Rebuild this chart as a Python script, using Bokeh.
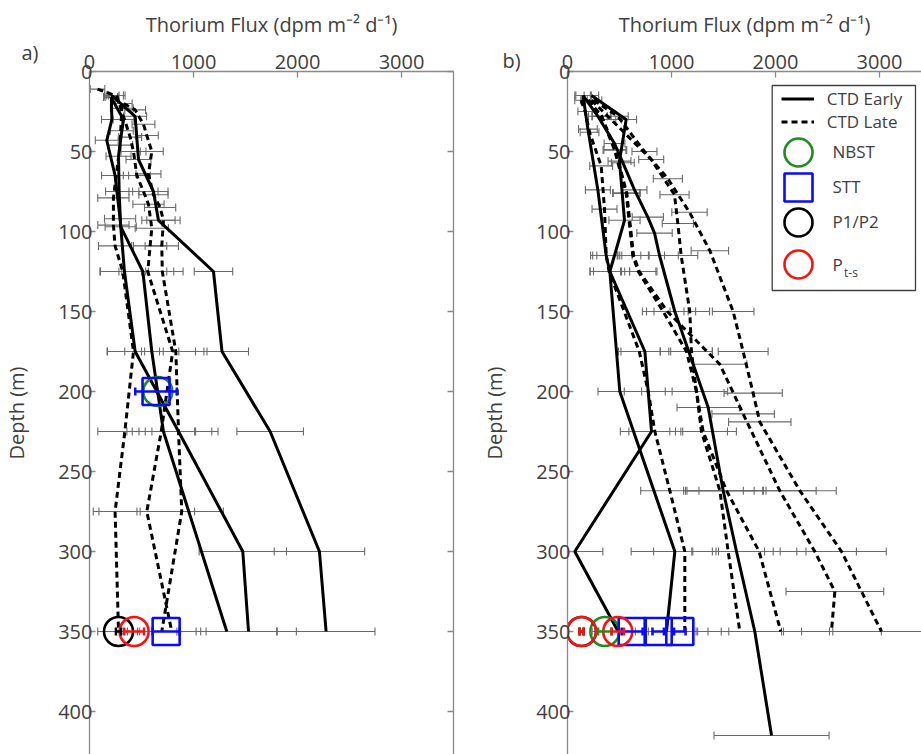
from bokeh.plotting import figure
from bokeh.models import (Range1d, LinearAxis, FixedTicker, Whisker, TeeHead, ColumnDataSource,
                          Legend, LegendItem, Label, BoxAnnotation)
from bokeh.layouts import row
from bokeh.embed import file_html
from bokeh.resources import INLINE

# ---------------- data ----------------
X_TICKS = [0, 1000, 2000, 3000]
Y_TICKS = [0, 50, 100, 150, 200, 250, 300, 350, 400]
X_LABEL = "Thorium Flux (dpm m\u207b\u00b2 d\u207b\u00b9)"
Y_LABEL = "Depth (m)"
PANEL_LABELS = ["a)", "b)"]

# Panel a) CTD Early (solid)
A_E1_DEPTH = [15, 28, 55, 75, 93, 125, 175, 225, 300, 350]
A_E1_FLUX = [214, 439, 471, 615, 663, 1192, 1274, 1737, 2211, 2275]
A_E1_ERR = [70, 110, 120, 140, 160, 185, 255, 320, 435, 470]

A_E2_DEPTH = [16, 30, 37, 53, 75, 97, 125, 175, 225, 350]
A_E2_FLUX = [205, 327, 311, 279, 285, 300, 513, 599, 711, 1320]
A_E2_ERR = [70, 100, 110, 120, 130, 150, 230, 260, 300, 480]

A_E3_DEPTH = [16, 30, 43, 65, 92, 125, 175, 225, 300, 350]
A_E3_FLUX = [210, 215, 166, 246, 294, 336, 439, 856, 1474, 1529]
A_E3_ERR = [60, 100, 110, 130, 150, 230, 270, 380, 420, 460]

# Panel a) CTD Late (dashed)
A_L1_DEPTH = [11, 15, 23, 46, 79, 96, 109, 125, 175, 225, 275, 350]
A_L1_FLUX = [77, 246, 311, 294, 230, 230, 246, 320, 423, 340, 246, 279]
A_L1_ERR = [70, 80, 110, 120, 150, 150, 160, 220, 250, 260, 210, 200]

A_L2_DEPTH = [15, 41, 50, 65, 75, 83, 98, 109, 125, 175, 225, 275, 350]
A_L2_FLUX = [262, 391, 423, 455, 519, 567, 599, 583, 560, 800, 690, 551, 791]
A_L2_ERR = [80, 110, 120, 130, 140, 150, 160, 160, 250, 300, 330, 460, 330]

A_L3_DEPTH = [20, 24, 33, 40, 50, 64, 77, 85, 93, 109, 125, 175, 225, 275, 350]
A_L3_FLUX = [330, 439, 519, 551, 599, 567, 615, 679, 711, 695, 700, 830, 856, 887, 695]
A_L3_ERR = [80, 100, 110, 110, 110, 120, 140, 150, 160, 160, 200, 300, 320, 400, 330]

# Panel a) traps
A_NBST_DEPTH = [200]
A_NBST_FLUX = [657]
A_STT_DEPTH = [200, 350]
A_STT_FLUX = [640, 737]
A_STT_ERR = [200, 130]
A_P12_DEPTH = [350]
A_P12_FLUX = [279]
A_P12_ERR = [25]
A_PTS_DEPTH = [350]
A_PTS_FLUX = [429]
A_PTS_ERR = [95]

# Panel b) CTD Early (solid)
B_E1_DEPTH = [15, 28, 45, 57, 74, 91, 101, 115, 150, 210, 262, 300, 350, 415]
B_E1_FLUX = [150, 292, 452, 532, 644, 772, 837, 885, 1032, 1353, 1497, 1625, 1801, 1962]
B_E1_ERR = [80, 90, 100, 110, 120, 150, 170, 180, 200, 300, 380, 420, 450, 553]

B_E2_DEPTH = [15, 30, 56, 93, 115, 125, 200, 300, 350]
B_E2_FLUX = [230, 564, 500, 548, 452, 407, 503, 1032, 952]
B_E2_ERR = [70, 100, 110, 150, 170, 190, 210, 420, 300]

B_E3_DEPTH = [15, 36, 74, 115, 125, 175, 225, 300, 350]
B_E3_FLUX = [150, 196, 292, 372, 407, 744, 808, 70, 487]
B_E3_ERR = [70, 90, 120, 150, 190, 230, 300, 270, 250]

# Panel b) CTD Late (dashed)
B_L1_DEPTH = [18, 25, 38, 59, 86, 115, 125, 175, 200, 225, 262, 300, 350]
B_L1_FLUX = [130, 170, 212, 324, 356, 372, 400, 690, 776, 840, 984, 1128, 1128]
B_L1_ERR = [60, 70, 90, 110, 120, 130, 150, 200, 230, 250, 280, 300, 350]

B_L2_DEPTH = [18, 28, 49, 76, 115, 125, 150, 175, 200, 225, 262, 300, 350]
B_L2_FLUX = [200, 324, 452, 564, 628, 680, 920, 1144, 1240, 1304, 1529, 1843, 2051]
B_L2_ERR = [70, 90, 110, 130, 150, 170, 200, 250, 300, 320, 380, 450, 500]

B_L3_DEPTH = [18, 30, 55, 77, 95, 115, 150, 175, 225, 262, 300, 350]
B_L3_FLUX = [230, 420, 805, 1029, 1061, 1093, 1176, 1192, 1288, 1465, 1545, 1657]
B_L3_ERR = [70, 100, 120, 140, 150, 160, 190, 200, 250, 330, 350, 420]

B_L4_DEPTH = [18, 28, 49, 76, 115, 125, 150, 183, 214, 262, 300, 325, 350]
B_L4_FLUX = [200, 330, 460, 570, 635, 690, 960, 1465, 1689, 2041, 2378, 2571, 2538]
B_L4_ERR = [70, 90, 110, 130, 150, 170, 200, 260, 300, 350, 400, 470, 480]

B_L5_DEPTH = [18, 28, 50, 67, 88, 112, 150, 175, 201, 219, 262, 300, 350]
B_L5_FLUX = [250, 484, 740, 965, 1173, 1369, 1593, 1689, 1785, 1849, 2234, 2635, 3019]
B_L5_ERR = [80, 100, 120, 140, 170, 180, 200, 240, 280, 300, 350, 430, 500]

# Panel b) traps
B_NBST_DEPTH = [350]
B_NBST_FLUX = [359]
B_NBST_ERR = [65]
B_STT_DEPTH = [350, 350, 350]
B_STT_FLUX = [622, 872, 1080]
B_STT_ERR = [100, 55, 55]
B_P12_DEPTH = [350]
B_P12_FLUX = [135]
B_P12_ERR = [20]
B_PTS_DEPTH = [350, 350]
B_PTS_FLUX = [135, 483]
B_PTS_ERR = [20, 60]

LEGEND_LABELS = ["CTD Early", "CTD Late", "NBST", "STT", "P1/P2", "P"]
PTS_SUB = "t-s"

# ---------------- style ----------------
FONT = "Open Sans"
TXT = "#404040"
AXC = "#8a8a8a"
ERRC = "#6a6a6a"
GREEN = "#1e8c1e"
BLUE = "#0a0aff"
RED = "#ff1010"
H = 754
FRAME_TOP = 71
Y_MAX = (H - FRAME_TOP) / 1.6


def style_axis(ax):
    ax.major_tick_in = 6
    ax.major_tick_out = 0
    ax.minor_tick_line_color = None
    ax.axis_line_color = AXC
    ax.axis_line_width = 1.3
    ax.major_tick_line_color = AXC
    ax.major_tick_line_width = 1.3
    ax.major_label_text_font = FONT
    ax.major_label_text_font_size = "20px"
    ax.major_label_text_color = TXT
    ax.axis_label_text_font = FONT
    ax.axis_label_text_font_size = "20px"
    ax.axis_label_text_font_style = "normal"
    ax.axis_label_text_color = TXT


def make_fig(width, xmax, right_border, tag, tag_offset, tag_standoff):
    p = figure(width=width, height=H, x_range=Range1d(0, xmax), y_range=Range1d(Y_MAX, 0),
               x_axis_location="above", output_backend="svg", toolbar_location=None,
               min_border_left=88, min_border_right=right_border,
               min_border_top=FRAME_TOP, min_border_bottom=0,
               title=tag, title_location="above")
    p.title.align = "left"
    p.title.vertical_align = "bottom"
    p.title.offset = tag_offset
    p.title.standoff = tag_standoff
    p.title.text_font = FONT
    p.title.text_font_size = "20px"
    p.title.text_font_style = "normal"
    p.title.text_color = TXT
    p.outline_line_color = None
    p.grid.visible = False
    p.background_fill_color = "white"
    p.border_fill_color = "white"
    xa = p.xaxis[0]
    xa.ticker = FixedTicker(ticks=X_TICKS)
    style_axis(xa)
    xa.axis_label = X_LABEL
    xa.major_label_standoff = 3
    xa.axis_label_standoff = 14
    ya = p.yaxis[0]
    ya.ticker = FixedTicker(ticks=Y_TICKS)
    style_axis(ya)
    ya.major_label_standoff = -3
    ya.axis_label = Y_LABEL
    ya.axis_label_standoff = 25
    return p


def errbars(p, depth, flux, err, color, lw, level):
    src = ColumnDataSource(dict(base=depth,
                                lower=[f - e for f, e in zip(flux, err)],
                                upper=[f + e for f, e in zip(flux, err)]))
    w = Whisker(source=src, base="base", lower="lower", upper="upper", dimension="width",
                line_color=color, line_width=lw, level=level,
                upper_head=TeeHead(size=8, line_color=color, line_width=lw),
                lower_head=TeeHead(size=8, line_color=color, line_width=lw))
    p.add_layout(w)


def profiles(p, early, late):
    rs_e, rs_l = [], []
    for d, f, e in early + late:
        errbars(p, d, f, e, ERRC, 1.1, "underlay")
    for d, f, e in late:
        rs_l.append(p.line(f, d, line_color="black", line_width=3, line_dash="6 4"))
    for d, f, e in early:
        rs_e.append(p.line(f, d, line_color="black", line_width=3))
    return rs_e, rs_l


def traps(p, nbst, stt, p12, pts):
    r_g = p.scatter(nbst[1], nbst[0], marker="circle", size=29, fill_color=None,
                    line_color=GREEN, line_width=2.6)
    r_b = p.scatter(stt[1], stt[0], marker="square", size=27, fill_color=None,
                    line_color=BLUE, line_width=2.6)
    r_k = p.scatter(p12[1], p12[0], marker="circle", size=29, fill_color=None,
                    line_color="black", line_width=2.6)
    r_r = p.scatter(pts[1], pts[0], marker="circle", size=29, fill_color=None,
                    line_color=RED, line_width=2.6)
    if len(nbst) > 2:
        errbars(p, nbst[0], nbst[1], nbst[2], GREEN, 2.5, "annotation")
    errbars(p, stt[0], stt[1], stt[2], BLUE, 2.5, "annotation")
    errbars(p, p12[0], p12[1], p12[2], "black", 2.5, "annotation")
    errbars(p, pts[0], pts[1], pts[2], RED, 2.5, "annotation")
    return r_g, r_b, r_k, r_r


def legend(items, loc, gw, gh, standoff):
    return Legend(items=items, location=loc, glyph_width=gw, glyph_height=gh,
                  label_height=23, spacing=0, padding=0, margin=0,
                  label_standoff=standoff, border_line_color=None,
                  background_fill_alpha=0, label_text_font=FONT,
                  label_text_font_size="17px", label_text_color=TXT)


# ---------------- panel a ----------------
pa = make_fig(478, 3500, 25, PANEL_LABELS[0], -68, -116)
ra = LinearAxis(ticker=FixedTicker(ticks=Y_TICKS))
style_axis(ra)
ra.major_label_overrides = {t: "" for t in Y_TICKS}
ra.major_label_standoff = 0
pa.add_layout(ra, "right")

profiles(pa,
         [(A_E1_DEPTH, A_E1_FLUX, A_E1_ERR), (A_E2_DEPTH, A_E2_FLUX, A_E2_ERR),
          (A_E3_DEPTH, A_E3_FLUX, A_E3_ERR)],
         [(A_L1_DEPTH, A_L1_FLUX, A_L1_ERR), (A_L2_DEPTH, A_L2_FLUX, A_L2_ERR),
          (A_L3_DEPTH, A_L3_FLUX, A_L3_ERR)])
traps(pa, (A_NBST_DEPTH, A_NBST_FLUX), (A_STT_DEPTH, A_STT_FLUX, A_STT_ERR),
      (A_P12_DEPTH, A_P12_FLUX, A_P12_ERR), (A_PTS_DEPTH, A_PTS_FLUX, A_PTS_ERR))

# ---------------- panel b ----------------
pb = make_fig(443, 3404, 0, PANEL_LABELS[1], -65, -132)
rb_e, rb_l = profiles(pb,
                      [(B_E1_DEPTH, B_E1_FLUX, B_E1_ERR), (B_E2_DEPTH, B_E2_FLUX, B_E2_ERR),
                       (B_E3_DEPTH, B_E3_FLUX, B_E3_ERR)],
                      [(B_L1_DEPTH, B_L1_FLUX, B_L1_ERR), (B_L2_DEPTH, B_L2_FLUX, B_L2_ERR),
                       (B_L3_DEPTH, B_L3_FLUX, B_L3_ERR), (B_L4_DEPTH, B_L4_FLUX, B_L4_ERR),
                       (B_L5_DEPTH, B_L5_FLUX, B_L5_ERR)])
rg, rb, rk, rr = traps(pb, (B_NBST_DEPTH, B_NBST_FLUX, B_NBST_ERR),
                       (B_STT_DEPTH, B_STT_FLUX, B_STT_ERR),
                       (B_P12_DEPTH, B_P12_FLUX, B_P12_ERR),
                       (B_PTS_DEPTH, B_PTS_FLUX, B_PTS_ERR))

# legend frame (screen units, from the frame's bottom-left)
pb.add_layout(BoxAnnotation(left=204.7, right=348, top=669, bottom=464,
                            left_units="screen", right_units="screen",
                            top_units="screen", bottom_units="screen",
                            fill_color="white", fill_alpha=1.0,
                            line_color="#404040", line_width=1.3, line_alpha=1.0))

pb.add_layout(legend([LegendItem(label=LEGEND_LABELS[0], renderers=[rb_e[0]]),
                      LegendItem(label=LEGEND_LABELS[1], renderers=[rb_l[0]])],
                     (213.7, 620.8), 33, 23, 13), "center")
for lab, rend, yloc in ((LEGEND_LABELS[2], rg, 567.5), (LEGEND_LABELS[3], rb, 532.5),
                        (LEGEND_LABELS[4], rk, 497.5), (LEGEND_LABELS[5], rr, 455)):
    pb.add_layout(legend([LegendItem(label=lab, renderers=[rend])],
                         (195.5, yloc), 70, 70, 0), "center")
pb.add_layout(Label(x=276.5, y=482.5, x_units="screen", y_units="screen", text=PTS_SUB,
                    text_font=FONT, text_font_size="12px", text_color=TXT,
                    text_align="left", text_baseline="alphabetic"))

layout = row(pa, pb)
open("out.html", "w").write(file_html(layout, INLINE))
